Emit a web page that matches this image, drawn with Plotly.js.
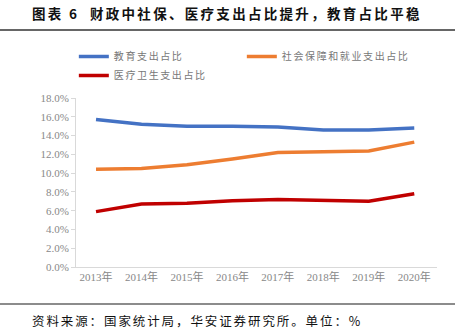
<!DOCTYPE html>
<html><head><meta charset="utf-8">
<script src="https://cdn.plot.ly/plotly-3.0.1.min.js"></script>
<style>
html,body{margin:0;padding:0;background:#fff;}
#chart{width:458px;height:333px;}
.gtitle{letter-spacing:2.3px;}
.legendtext{letter-spacing:1.6px;}
.annotation-text{letter-spacing:1.9px;}
</style></head>
<body><div id="chart"></div>
<script>
const years = ['2013年','2014年','2015年','2016年','2017年','2018年','2019年','2020年'];
const education = [15.7, 15.2, 15.0, 15.0, 14.9, 14.6, 14.6, 14.8];
const socialSecurity = [10.4, 10.5, 10.9, 11.5, 12.2, 12.3, 12.35, 13.3];
const health = [5.9, 6.7, 6.8, 7.05, 7.2, 7.1, 7.0, 7.8];
const seriesNames = ['教育支出占比','社会保障和就业支出占比','医疗卫生支出占比'];
const yTicks = [0,2,4,6,8,10,12,14,16,18];

const cjk = '"Noto Sans CJK SC", "Noto Sans", sans-serif';
const serif = '"Liberation Serif", "Noto Sans CJK SC", serif';

const traces = [
  {x: years, y: education, name: seriesNames[0], mode:'lines', line:{color:'#4472C4', width:3.5}},
  {x: years, y: socialSecurity, name: seriesNames[1], mode:'lines', line:{color:'#ED7D31', width:3.5}},
  {x: years, y: health, name: seriesNames[2], mode:'lines', line:{color:'#C00000', width:3.5}}
];

const layout = {
  width: 458, height: 333,
  margin: {l: 76, r: 21, t: 98, b: 66},
  paper_bgcolor: '#fff', plot_bgcolor: '#fff',
  showlegend: true,
  title: {text: '图表 6  财政中社保、医疗支出占比提升，教育占比平稳', xref:'container', yref:'container',
    x: 32/458, xanchor:'left', y: 1 - 14/333, yanchor:'middle',
    font:{family: cjk, size: 13.5, color:'#111', weight: 'bold'}},
  legend: {orientation:'h', x: -0.006, xref:'paper', xanchor:'left', y: (267-42)/169, yref:'paper', yanchor:'top',
    entrywidth: 123, entrywidthmode:'pixels', traceorder:'normal',
    font:{family: cjk, size: 10, color:'#777'}, itemwidth: 30, tracegroupgap: 0, bgcolor:'rgba(0,0,0,0)'},
  xaxis: {type:'category', range:[-0.44, 7.5], showgrid:false, zeroline:false,
    showline:true, linecolor:'#d9d9d9', linewidth:1, ticks:'', 
    tickfont:{family: serif, size: 11, color:'#888'}, fixedrange:true},
  yaxis: {range:[0,18], tickvals: yTicks, ticktext: yTicks.map(v => v.toFixed(1) + '%'),
    showgrid:false, zeroline:false, showline:true, linecolor:'#d9d9d9', linewidth:1,
    ticks:'outside', ticklen:4, tickcolor:'#d9d9d9',
    tickfont:{family: serif, size: 11, color:'#888'}, fixedrange:true},
  shapes: [
    {type:'line', xref:'paper', yref:'paper', x0:-76/361, x1:(455-76)/361, y0:(267-30)/169, y1:(267-30)/169, line:{color:'#333', width:1.5}},
    {type:'line', xref:'paper', yref:'paper', x0:-76/361, x1:(455-76)/361, y0:(267-304)/169, y1:(267-304)/169, line:{color:'#666', width:1.5}}
  ],
  annotations: [
    {text:'资料来源：国家统计局，华安证券研究所。单位：%', xref:'paper', yref:'paper',
      x:(30-76)/361, xanchor:'left', y:(267-320)/169, yanchor:'middle', showarrow:false,
      font:{family: cjk, size: 12.5, color:'#111'}}
  ]
};

Plotly.newPlot('chart', traces, layout, {displayModeBar:false, staticPlot:true});
</script></body></html>
